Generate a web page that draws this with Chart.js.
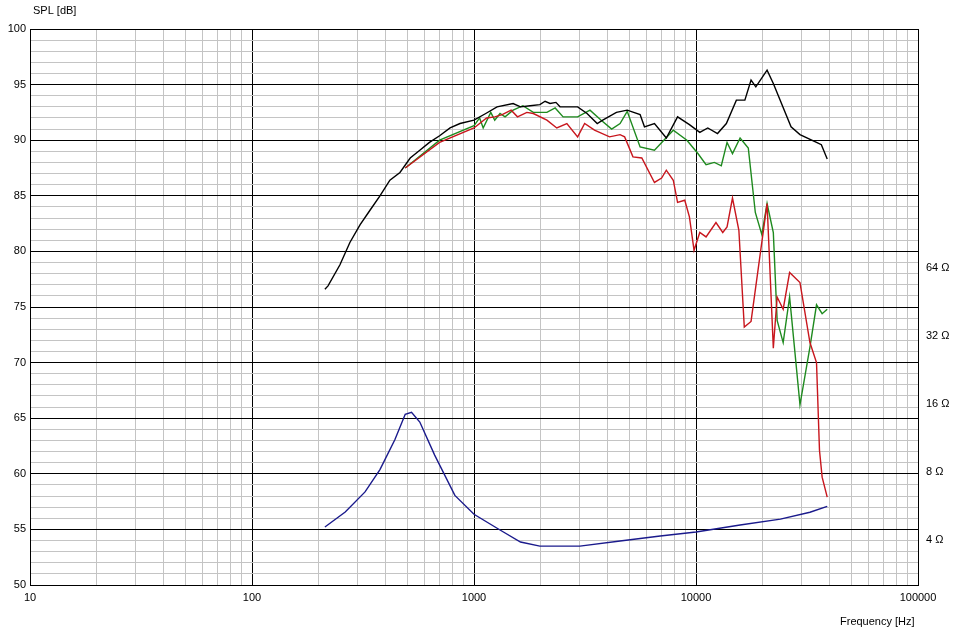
<!DOCTYPE html>
<html>
<head>
<meta charset="utf-8">
<script src="https://cdn.jsdelivr.net/npm/chart.js@4"></script>
<style>
  html, body { margin: 0; padding: 0; background: #fff; }
  #wrap { width: 956px; height: 632px; }
</style>
</head>
<body>
<div id="wrap"><canvas id="spl"></canvas></div>
<script>
// frequency response, [Hz, dB]
const blackCurve = [
  [213, 76.6], [220, 76.9], [249, 78.8], [276, 80.8], [307, 82.4], [340, 83.7], [377, 85.0],
  [418, 86.4], [464, 87.1], [516, 88.4], [570, 89.1], [630, 89.8], [700, 90.4], [780, 91.1],
  [865, 91.5], [1000, 91.8], [1130, 92.4], [1270, 93.0], [1500, 93.3], [1620, 93.0], [1790, 93.1],
  [1980, 93.2], [2090, 93.5], [2200, 93.3], [2340, 93.4], [2440, 93.0], [2620, 93.0], [2930, 93.0],
  [3230, 92.4], [3590, 91.5], [3800, 91.8], [4380, 92.5], [4900, 92.7], [5600, 92.3], [5860, 91.2],
  [6500, 91.5], [7350, 90.2], [8260, 92.1], [9340, 91.4], [10400, 90.7], [11300, 91.1], [12500, 90.6],
  [13700, 91.5], [15200, 93.6], [16600, 93.6], [17700, 95.4], [18600, 94.8], [20900, 96.3],
  [22300, 95.1], [26800, 91.2], [29400, 90.5], [34900, 89.8], [36700, 89.6], [39000, 88.3]
];
const greenCurve = [
  [490, 87.5], [700, 90.0], [1000, 91.3], [1060, 92.0], [1100, 91.1], [1190, 92.5], [1240, 91.8],
  [1310, 92.4], [1380, 92.1], [1500, 92.7], [1660, 93.1], [1850, 92.5], [2130, 92.5], [2320, 92.9],
  [2520, 92.1], [2930, 92.1], [3330, 92.7], [3740, 91.8], [4170, 91.0], [4550, 91.5], [4900, 92.6],
  [5600, 89.4], [6500, 89.1], [7900, 90.9], [9100, 90.0], [10200, 88.8], [11100, 87.8], [12100, 88.0],
  [13000, 87.7], [13800, 89.8], [14600, 88.8], [15800, 90.2], [17200, 89.3], [18500, 83.5],
  [19800, 81.5], [20900, 84.3], [22300, 81.7], [23200, 73.8], [24700, 71.8], [26400, 75.9],
  [29400, 66.2], [32600, 71.4], [34900, 75.2], [37000, 74.4], [39000, 74.8]
];
const redCurve = [
  [490, 87.5], [700, 89.8], [1000, 91.1], [1140, 92.0], [1240, 92.1], [1340, 92.3], [1470, 92.7],
  [1570, 92.1], [1730, 92.5], [1850, 92.4], [2130, 91.8], [2360, 91.1], [2620, 91.5], [2930, 90.3],
  [3150, 91.5], [3490, 90.9], [4080, 90.3], [4550, 90.5], [4770, 90.3], [5200, 88.5], [5700, 88.4],
  [6500, 86.2], [7000, 86.6], [7350, 87.3], [7900, 86.4], [8260, 84.4], [8900, 84.6], [9340, 83.1],
  [9800, 80.1], [10400, 81.7], [11100, 81.3], [12300, 82.6], [13200, 81.7], [13800, 82.2],
  [14600, 84.8], [15600, 81.9], [16500, 73.2], [17700, 73.7], [20900, 84.3], [22300, 71.3],
  [23200, 75.9], [24700, 74.8], [26400, 78.1], [29400, 77.2], [32600, 71.8], [34900, 70.0],
  [36000, 62.1], [37000, 59.7], [39000, 57.9]
];
// impedance, [Hz, Ohm]
const impedance = [
  [213, 4.57], [263, 5.32], [323, 6.53], [377, 8.2], [440, 11.1], [490, 14.4], [523, 14.7],
  [570, 13.3], [665, 9.5], [820, 6.3], [1000, 5.2], [1310, 4.43], [1620, 3.92], [1980, 3.76],
  [3000, 3.76], [4550, 3.96], [6900, 4.17], [10000, 4.34], [15800, 4.66], [24000, 4.95],
  [32600, 5.31], [39000, 5.64]
];
const decadeTicks = [10, 100, 1000, 10000, 100000];
const ohmTicks = [4, 8, 16, 32, 64];

const pts = arr => arr.map(p => ({ x: p[0], y: p[1] }));
const font = { family: 'Liberation Sans, Arial, sans-serif', size: 11 };

const freqTicks = [];
for (let d = 10; d < 100000; d *= 10) {
  for (let m = 1; m < 10; m++) freqTicks.push(d * m);
}
freqTicks.push(100000);

const isDecade = v => decadeTicks.includes(Math.round(v));

const labels = {
  id: 'labels',
  afterDraw(chart) {
    const c = chart.ctx;
    c.save();
    c.font = '11px Liberation Sans, Arial, sans-serif';
    c.fillStyle = '#000';
    c.textBaseline = 'middle';
    c.textAlign = 'left';
    c.fillText('SPL [dB]', 33, 11);
    c.fillText('Frequency [Hz]', 840, 622);
    c.restore();
  }
};

const line = (data, color, axis) => ({
  data: pts(data), borderColor: color, borderWidth: 1.4, pointRadius: 0,
  tension: 0, fill: false, yAxisID: axis
});

new Chart(document.getElementById('spl'), {
  type: 'line',
  data: {
    datasets: [
      line(blackCurve, '#000000', 'y'),
      line(redCurve, '#c8161d', 'y'),
      line(greenCurve, '#1e8a1e', 'y'),
      line(impedance, '#1a1a8c', 'y2')
    ]
  },
  plugins: [labels],
  options: {
    responsive: true,
    maintainAspectRatio: false,
    animation: false,
    layout: { padding: { top: 29, left: 0, right: 0, bottom: 0 } },
    plugins: { legend: { display: false }, tooltip: { enabled: false } },
    scales: {
      x: {
        type: 'logarithmic', min: 10, max: 100000,
        afterBuildTicks: s => { s.ticks = freqTicks.map(v => ({ value: v })); },
        afterFit: s => { s.height = 47; },
        ticks: {
          autoSkip: false, maxRotation: 0, color: '#000', font, padding: 6,
          callback: v => isDecade(v) ? String(Math.round(v)) : ''
        },
        grid: {
          color: ctx => ctx.tick && isDecade(ctx.tick.value) ? '#000' : '#c4c4c4',
          lineWidth: 1, drawTicks: false
        },
        border: { color: '#000' }
      },
      y: {
        min: 50, max: 100,
        afterBuildTicks: s => {
          const t = [];
          for (let v = 50; v <= 100; v++) t.push({ value: v });
          s.ticks = t;
        },
        afterFit: s => { s.width = 30; },
        ticks: {
          autoSkip: false, color: '#000', font, padding: 4,
          callback: v => v % 5 === 0 ? String(v) : ''
        },
        grid: {
          color: ctx => ctx.tick && ctx.tick.value % 5 === 0 ? '#000' : '#c4c4c4',
          lineWidth: 1, drawTicks: false
        },
        border: { color: '#000' }
      },
      y2: {
        type: 'logarithmic', position: 'right', min: 2.53, max: 729,
        afterBuildTicks: s => { s.ticks = ohmTicks.map(v => ({ value: v })); },
        afterFit: s => { s.width = 38; },
        ticks: {
          autoSkip: false, color: '#000', font, padding: 8,
          callback: v => v + ' Ω'
        },
        grid: { display: false, drawTicks: false },
        border: { display: false }
      }
    }
  }
});
</script>
</body>
</html>
